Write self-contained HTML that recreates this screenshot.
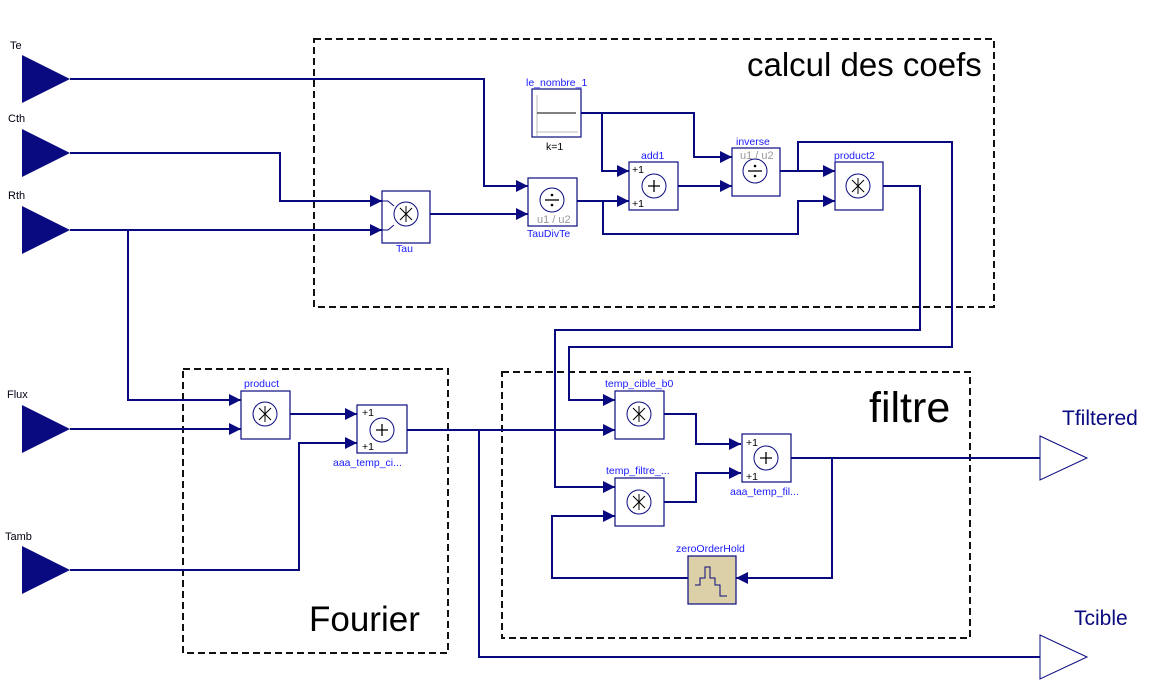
<!DOCTYPE html>
<html><head><meta charset="utf-8"><style>
html,body{margin:0;padding:0;background:#fff;width:1159px;height:691px;overflow:hidden}
svg{display:block;font-family:"Liberation Sans",sans-serif}
.w{fill:none;stroke:#0a0a80;stroke-width:2}
.b{fill:#fff;stroke:#0a0a80;stroke-width:1.2}
.c{fill:#fff;stroke:#0a0a80;stroke-width:1}
.l{fill:#1a1aff;font-size:10.5px}
.d{fill:none;stroke:#111;stroke-width:2;stroke-dasharray:7,4}
.a{fill:#0a0a80}
</style></head><body>
<svg width="1159" height="691" viewBox="0 0 1159 691">
<defs>
<marker id="ar" viewBox="0 0 10 10" refX="10" refY="5" markerWidth="12" markerHeight="12" markerUnits="userSpaceOnUse" orient="auto"><path d="M0,0L10,5L0,10z" fill="#0a0a80"/></marker>
</defs>
<rect class="d" x="314" y="39" width="680" height="268"/>
<rect class="d" x="183" y="369" width="265" height="284"/>
<rect class="d" x="502" y="372" width="468" height="266"/>
<text x="747" y="76" font-size="33" fill="#000">calcul des coefs</text>
<text x="869" y="422" font-size="43" fill="#000">filtre</text>
<text x="309" y="631" font-size="35" fill="#000">Fourier</text>

<g class="a">
<path d="M22,55L70,79L22,103z"/>
<path d="M22,129L70,153L22,177z"/>
<path d="M22,206L70,230L22,254z"/>
<path d="M22,405L70,429L22,453z"/>
<path d="M22,546L70,570L22,594z"/>
</g>
<g font-size="11" fill="#001">
<text x="10" y="49">Te</text>
<text x="8" y="122">Cth</text>
<text x="8" y="199">Rth</text>
<text x="7" y="398">Flux</text>
<text x="5" y="540">Tamb</text>
</g>

<path d="M1040,436L1087,458L1040,480z" fill="#fff" stroke="#0a0a80" stroke-width="1"/>
<path d="M1040,635L1087,657L1040,679z" fill="#fff" stroke="#0a0a80" stroke-width="1"/>
<text x="1062" y="425" font-size="21" fill="#0a0a80">Tfiltered</text>
<text x="1074" y="625" font-size="21" fill="#0a0a80">Tcible</text>

<g class="w">
<path d="M70,79H484V186H528" marker-end="url(#ar)"/>
<path d="M70,153H280V201H382" marker-end="url(#ar)"/>
<path d="M70,230H382" marker-end="url(#ar)"/>
<path d="M128,230V400H241" marker-end="url(#ar)"/>
<path d="M430,214H528" marker-end="url(#ar)"/>
<path d="M577,201H629" marker-end="url(#ar)"/>
<path d="M603,201V234H798V201H835" marker-end="url(#ar)"/>
<path d="M581,113H602V171H629" marker-end="url(#ar)"/>
<path d="M602,113H694V157H732" marker-end="url(#ar)"/>
<path d="M678,186H732" marker-end="url(#ar)"/>
<path d="M780,171H835" marker-end="url(#ar)"/>
<path d="M798,171V142H952V347H569V400H615" marker-end="url(#ar)"/>
<path d="M883,186H920V330H555V487H615" marker-end="url(#ar)"/>
<path d="M70,429H241" marker-end="url(#ar)"/>
<path d="M290,414H357" marker-end="url(#ar)"/>
<path d="M70,570H299V443H357" marker-end="url(#ar)"/>
<path d="M407,430H615" marker-end="url(#ar)"/>
<path d="M479,430V657H1040"/>
<path d="M664,414H696V444H741" marker-end="url(#ar)"/>
<path d="M664,502H696V473H741" marker-end="url(#ar)"/>
<path d="M791,458H1040"/>
<path d="M832,458V578H736" marker-end="url(#ar)"/>
<path d="M688,578H552V516H615" marker-end="url(#ar)"/>
</g>

<rect class="b" x="532" y="89" width="49" height="48"/>
<path d="M537,136V95M536,132H578" stroke="#bbb" stroke-width="1" fill="none"/>
<path d="M537,113H576" stroke="#000" stroke-width="1"/>
<text class="l" x="526" y="86">le_nombre_1</text>
<text x="546" y="150" font-size="10.5" fill="#000">k=1</text>

<g>
<rect class="b" x="382" y="191" width="48" height="52"/>
<circle class="c" cx="406" cy="214" r="12"/>
<path d="M400,208L412,220M412,208L400,220M406,206V222" stroke="#000" stroke-width="1"/>
<path d="M382,201h6l6,5M382,230h6l6,-5" class="c" fill="none"/>
<text class="l" x="396" y="252">Tau</text>
</g>
<g>
<rect class="b" x="528" y="178" width="49" height="48"/>
<circle class="c" cx="552" cy="200" r="12"/>
<path d="M545,200H559" stroke="#000" stroke-width="1.3"/><circle cx="552" cy="195" r="1.3"/><circle cx="552" cy="205" r="1.3"/>
<text x="537" y="223" font-size="11" fill="#999">u1 / u2</text>
<text class="l" x="527" y="237">TauDivTe</text>
</g>
<g>
<rect class="b" x="629" y="162" width="49" height="48"/>
<circle class="c" cx="654" cy="186" r="12"/>
<path d="M648,186H660M654,180V192" stroke="#000" stroke-width="1.3"/>
<text x="632" y="173" font-size="10.5" fill="#000">+1</text>
<text x="632" y="207" font-size="10.5" fill="#000">+1</text>
<text class="l" x="641" y="159">add1</text>
</g>
<g>
<rect class="b" x="732" y="148" width="48" height="48"/>
<circle class="c" cx="755" cy="171" r="12"/>
<path d="M748,171H762" stroke="#000" stroke-width="1.3"/><circle cx="755" cy="166" r="1.3"/><circle cx="755" cy="176" r="1.3"/>
<text x="740" y="159" font-size="11" fill="#999">u1 / u2</text>
<text class="l" x="736" y="145">inverse</text>
</g>
<g>
<rect class="b" x="835" y="162" width="48" height="48"/>
<circle class="c" cx="858" cy="186" r="12"/>
<path d="M852,180L864,192M864,180L852,192M858,178V194" stroke="#000" stroke-width="1"/>
<text class="l" x="834" y="159">product2</text>
</g>
<g>
<rect class="b" x="241" y="391" width="49" height="48"/>
<circle class="c" cx="265" cy="414" r="12"/>
<path d="M259,408L271,420M271,408L259,420M265,406V422" stroke="#000" stroke-width="1"/>
<text class="l" x="244" y="387">product</text>
</g>
<g>
<rect class="b" x="357" y="405" width="50" height="48"/>
<circle class="c" cx="382" cy="430" r="12"/>
<path d="M376,430H388M382,424V436" stroke="#000" stroke-width="1.3"/>
<text x="362" y="416" font-size="10.5" fill="#000">+1</text>
<text x="362" y="450" font-size="10.5" fill="#000">+1</text>
<text class="l" x="333" y="466">aaa_temp_ci...</text>
</g>
<g>
<rect class="b" x="615" y="391" width="49" height="48"/>
<circle class="c" cx="639" cy="414" r="12"/>
<path d="M633,408L645,420M645,408L633,420M639,406V422" stroke="#000" stroke-width="1"/>
<text class="l" x="605" y="387">temp_cible_b0</text>
</g>
<g>
<rect class="b" x="615" y="478" width="49" height="48"/>
<circle class="c" cx="639" cy="502" r="12"/>
<path d="M633,496L645,508M645,496L633,508M639,494V510" stroke="#000" stroke-width="1"/>
<text class="l" x="606" y="474">temp_filtre_...</text>
</g>
<g>
<rect class="b" x="742" y="434" width="49" height="48"/>
<circle class="c" cx="766" cy="458" r="12"/>
<path d="M760,458H772M766,452V464" stroke="#000" stroke-width="1.3"/>
<text x="746" y="446" font-size="10.5" fill="#000">+1</text>
<text x="746" y="480" font-size="10.5" fill="#000">+1</text>
<text class="l" x="730" y="495">aaa_temp_fil...</text>
</g>
<g>
<rect x="688" y="556" width="48" height="48" fill="#dcd0a8" stroke="#0a0a80" stroke-width="1.2"/>
<path d="M695,585H700V578H705V567H710V578H715V585H720V596H727" fill="none" stroke="#0a0a80" stroke-width="1"/>
<text class="l" x="676" y="552">zeroOrderHold</text>
</g>
</svg>
</body></html>
